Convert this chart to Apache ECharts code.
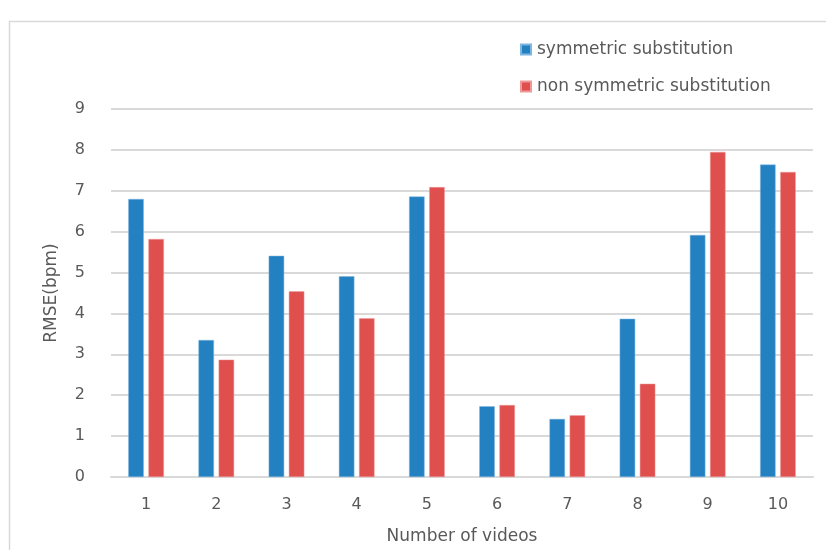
<!DOCTYPE html>
<html><head><meta charset="utf-8">
<script src="https://cdn.jsdelivr.net/npm/echarts@6/dist/echarts.min.js"></script>
<style>html,body{margin:0;padding:0;background:#fff}#c{width:826px;height:550px}</style>
</head><body><div id="c"></div>
<script>
const categories = ['1','2','3','4','5','6','7','8','9','10'];
const symmetric = [6.80, 3.35, 5.41, 4.91, 6.86, 1.73, 1.42, 3.87, 5.92, 7.64];
const nonSymmetric = [5.82, 2.87, 4.54, 3.88, 7.09, 1.76, 1.51, 2.28, 7.95, 7.46];
const seriesNames = ['symmetric substitution', 'non symmetric substitution'];
const yTitle = 'RMSE(bpm)';
const xTitle = 'Number of videos';

const FONT = "'DejaVu Sans', sans-serif";
const FS = 16;
const FS2 = 17;
const chart = echarts.init(document.getElementById('c'), null, {renderer:'canvas'});
chart.setOption({
  animation:false,
  textStyle:{fontFamily:FONT},
  graphic:[{type:'rect',shape:{x:9.5,y:21.5,width:840,height:560},style:{fill:'none',stroke:'#d9d9d9',lineWidth:1.5},z:-1}],
  legend:{orient:'vertical',left:515,top:36,itemWidth:10,itemHeight:10,itemGap:20,
    icon:'rect',textStyle:{fontSize:FS2,color:'#595959',fontFamily:FONT,padding:[0,0,0,1]},data:seriesNames},
  grid:{left:111,right:13,top:109,bottom:71,containLabel:false},
  xAxis:{type:'category',data:categories,
    axisLine:{lineStyle:{color:'#d9d9d9',width:2}},axisTick:{show:false},
    axisLabel:{fontSize:FS,color:'#595959',margin:20,fontFamily:FONT},
    name:xTitle,nameLocation:'middle',nameGap:51,nameTextStyle:{fontSize:FS2,color:'#595959',fontFamily:FONT}},
  yAxis:{type:'value',min:0,max:9,interval:1,
    axisLine:{show:false},axisTick:{show:false},
    splitLine:{lineStyle:{color:'#d9d9d9',width:2}},
    axisLabel:{fontSize:FS,color:'#595959',margin:26,fontFamily:FONT},
    name:yTitle,nameLocation:'middle',nameGap:51,nameTextStyle:{fontSize:FS2,color:'#595959',fontFamily:FONT}},
  series:[
    {name:seriesNames[0],type:'bar',data:symmetric,barWidth:15.5,barGap:'30%',
      itemStyle:{color:'#2381c2',borderColor:'#7fb6e0',borderWidth:0.5}},
    {name:seriesNames[1],type:'bar',data:nonSymmetric,barWidth:15.5,barGap:'30%',
      itemStyle:{color:'#de4f4e',borderColor:'#ee9a99',borderWidth:0.5}}
  ]
});
</script></body></html>
